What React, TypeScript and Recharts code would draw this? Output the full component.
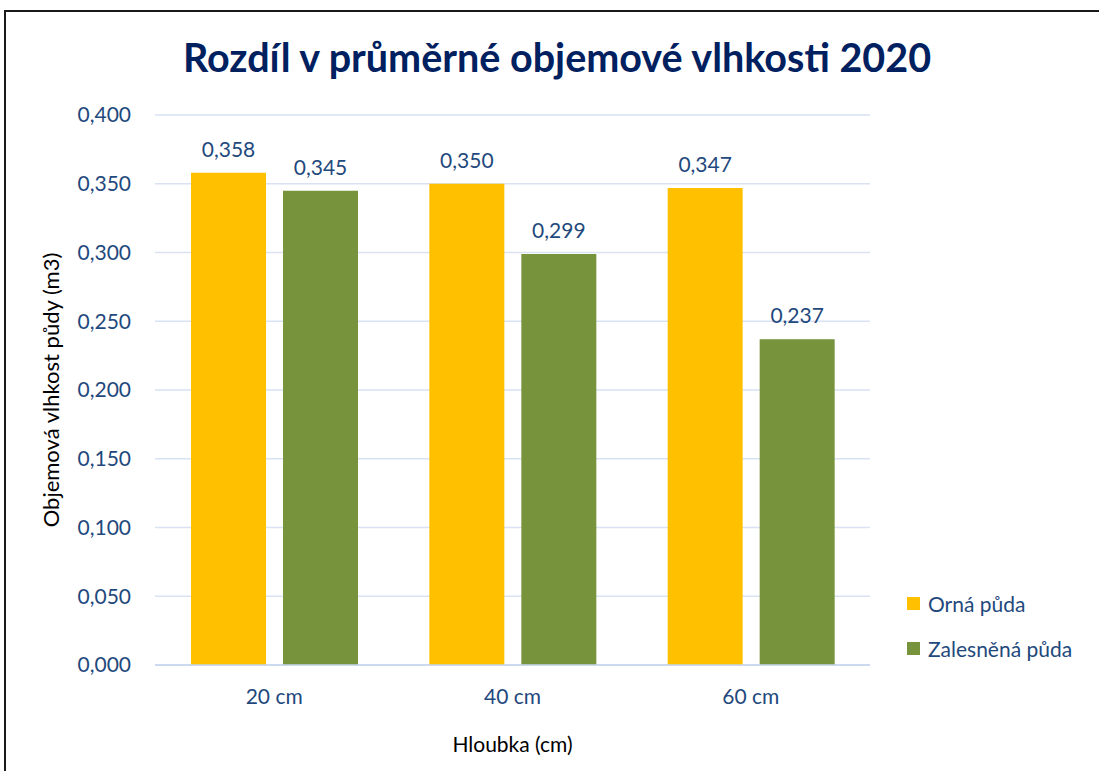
import React from "react";
import { BarChart, Bar, XAxis, YAxis, CartesianGrid, Legend, LabelList } from "recharts";

const categories = ["20 cm", "40 cm", "60 cm"];
const ornaPuda = [0.358, 0.35, 0.347];
const zalesnenaPuda = [0.345, 0.299, 0.237];
const yTicks = [0, 0.05, 0.1, 0.15, 0.2, 0.25, 0.3, 0.35, 0.4];

const data = categories.map((c, i) => ({ name: c, orna: ornaPuda[i], zales: zalesnenaPuda[i] }));

const FONT = "Lato, 'Open Sans', sans-serif";
const NAVY = "#1F497D";
const fmt = (v: number) => v.toFixed(3).replace(".", ",");

const renderLegend = (props: any) => {
  const { payload } = props;
  return (
    <div style={{ fontFamily: FONT, fontSize: 21, color: NAVY }}>
      {payload.map((p: any, i: number) => (
        <div key={i} style={{ display: "flex", alignItems: "center", height: 45 }}>
          <span style={{ width: 13, height: 13, background: p.color, display: "inline-block", marginRight: 8 }} />
          <span>{p.value}</span>
        </div>
      ))}
    </div>
  );
};

export default function App() {
  return (
    <div style={{ position: "absolute", left: 0, top: 0, width: 1099, height: 771, overflow: "hidden", background: "#fff" }}>
      <div style={{ position: "absolute", left: 4, top: 10, width: 1200, height: 900, border: "2px solid #1a1a1a", boxSizing: "border-box" }} />
      <div style={{ position: "absolute", left: 0, top: 0, width: 1099 }}>
        <BarChart
          width={1099}
          height={771}
          data={data}
          margin={{ top: 115, right: 39, bottom: 26, left: 0 }}
          barGap={17}
        >
          <text x={557} y={72} textAnchor="middle" fontFamily={FONT} fontWeight={700} fontSize={39.5} fill="#002060">
            Rozdíl v průměrné objemové vlhkosti 2020
          </text>
          <CartesianGrid vertical={false} stroke="#D9E2F3" strokeWidth={1.5} />
          <XAxis
            dataKey="name"
            height={80}
            axisLine={{ stroke: "#C5D4EC", strokeWidth: 1.5 }}
            tickLine={false}
            tickMargin={18}
            tick={{ fontFamily: FONT, fontSize: 21, fill: NAVY }}
            label={{
              content: (p: any) => {
                const vb = p.viewBox;
                return (
                  <text x={vb.x + vb.width / 2} y={752} textAnchor="middle" fontFamily={FONT} fontSize={21} fill="#000">
                    Hloubka (cm)
                  </text>
                );
              },
            }}
          />
          <YAxis
            width={155}
            domain={[0, 0.4]}
            ticks={yTicks}
            tickFormatter={fmt}
            axisLine={false}
            tickLine={false}
            tickMargin={18}
            tick={{ fontFamily: FONT, fontSize: 21, fill: NAVY }}
            label={{
              content: (p: any) => {
                const vb = p.viewBox;
                const cx = vb.x + 59;
                const cy = vb.y + vb.height / 2;
                return (
                  <text x={cx} y={cy} transform={`rotate(-90 ${cx} ${cy})`} textAnchor="middle" fontFamily={FONT} fontSize={22} fill="#000">
                    Objemová vlhkost půdy  (m3)
                  </text>
                );
              },
            }}
          />
          <Legend
            layout="vertical"
            align="right"
            verticalAlign="top"
            content={renderLegend}
            wrapperStyle={{ position: "absolute", left: 907, top: 581, width: 190 }}
          />
          <Bar dataKey="orna" name="Orná půda" fill="#FFC000" barSize={75} isAnimationActive={false}>
            <LabelList dataKey="orna" position="top" offset={16} formatter={(v: any) => fmt(Number(v))} style={{ fontFamily: FONT, fontSize: 21, fill: NAVY }} />
          </Bar>
          <Bar dataKey="zales" name="Zalesněná půda" fill="#77933C" barSize={75} isAnimationActive={false}>
            <LabelList dataKey="zales" position="top" offset={16} formatter={(v: any) => fmt(Number(v))} style={{ fontFamily: FONT, fontSize: 21, fill: NAVY }} />
          </Bar>
        </BarChart>
      </div>
    </div>
  );
}
